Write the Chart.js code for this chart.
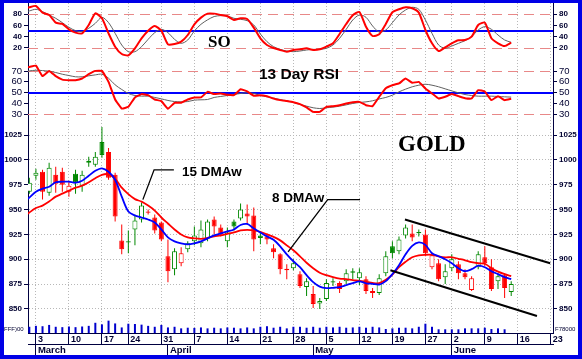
<!DOCTYPE html>
<html>
<head>
<meta charset="utf-8">
<title>Gold</title>
<script src="https://cdn.jsdelivr.net/npm/chart.js@4.4.1/dist/chart.umd.min.js"></script>
<style>
  html, body { margin: 0; padding: 0; }
  body { width: 582px; height: 359px; background: #0000e6; position: relative; overflow: hidden; }
  #frame { position: absolute; left: 4px; top: 3px; width: 574px; height: 352px; background: #ffffff; }
</style>
</head>
<body>
<div id="frame"><canvas id="chart" width="574" height="352"></canvas></div>
<script>
// trading days on the time axis (array index = x position)
const days = ['2/28','2/29','3/3','3/4','3/5','3/6','3/7','3/10','3/11','3/12','3/13','3/14','3/17','3/18','3/19','3/20',
  '3/24','3/25','3/26','3/27','3/28','3/31','4/1','4/2','4/3','4/4','4/7','4/8','4/9','4/10','4/11','4/14','4/15','4/16',
  '4/17','4/18','4/21','4/22','4/23','4/24','4/25','4/28','4/29','4/30','5/1','5/2','5/5','5/6','5/7','5/8','5/9','5/12',
  '5/13','5/14','5/15','5/16','5/19','5/20','5/21','5/22','5/23','5/27','5/28','5/29','5/30','6/2','6/3','6/4','6/5','6/6',
  '6/9','6/10','6/11','6/12','6/13','6/16','6/17','6/18','6/19','6/20','6/23'];
const weekStarts = ['3/3','3/10','3/17','3/24','3/31','4/7','4/14','4/21','4/28','5/5','5/12','5/19','5/27','6/2','6/9','6/16','6/23'];
const monthStarts = ['3/3', '4/1', '5/1', '6/2'];
const monthNames = ['March', 'April', 'May', 'June'];

// gold price, daily
const open = [null, 968, 984, 988, 967, 985, 988, 968, 986, 974, 997, 995, 1018, 1008, 985, 919, 918, 930, 940, 948, 942, 937,
  903, 890, 896, 910, 918, 916, 921, 940, 932, 918, 938, 941, 946, 944, 924, 923, 911, 905, 890.5, 891, 885, 872, 865, 855.5,
  860, 876.5, 876, 878, 888, 881, 880, 868, 866, 886, 913, 908, 924, 926, 926.5, 925, 892, 896, 882, 891, 895, 886, 869, 892,
  902, 892, 878, 884, 867];
const high = [null, 982, 991, 990, 997, 993, 992, 979, 990, 989, 1003, 1008, 1033, 1012, 987, 935, 929, 945, 957, 950, 945, 938,
  920, 911, 912, 918, 933, 939, 940, 943, 935, 932, 940, 956, 955, 952, 928, 926, 915, 906, 895, 900, 888, 881, 873, 861,
  880, 881, 878, 890, 891, 891, 883, 871, 885, 908, 918, 923, 935, 935, 930, 930, 906, 900, 895, 905, 898, 890, 883, 908,
  913, 900, 886, 886, 878];
const low = [null, 966, 980, 960, 964, 967, 968, 963, 966, 968, 993, 993, 1002, 980, 938, 905, 906, 914, 937, 945, 926, 918,
  877, 884, 893, 907, 914, 912, 918, 925, 923, 912, 929, 939, 935, 908, 915, 915, 901, 885, 880, 889, 871, 863, 851, 850,
  858, 873, 866, 875, 880, 874, 865, 861, 864, 883, 901, 905, 921, 918, 923, 903, 890, 878, 875, 888, 880, 880, 868, 890,
  893, 868, 870, 861, 863];
const close = [null, 977, 987, 968, 992, 976, 975, 974, 977, 985, 999, 1003, 1005, 982, 943, 910, 917, 939, 954, 947, 929, 920,
  888, 908, 906, 916, 924, 930, 938, 933, 925, 927, 933, 950, 943, 920, 921.5, 920, 907, 890, 889, 896, 873, 878, 855, 858,
  876, 878, 870, 886, 886.5, 887, 868, 866, 881, 903, 906, 920, 932, 922, 927, 906, 904, 880, 888, 900, 886, 882, 881, 905,
  896, 870, 883, 871, 875];
const volume = [null, 67, 77, 73, 87, 67, 63, 70, 63, 70, 77, 110, 93, 133, 103, 60, 100, 97, 90, 77, 67, 87, 60, 67, 50, 57,
  55, 60, 50, 57, 50, 60, 57, 50, 60, 50, 67, 73, 57, 67, 50, 67, 67, 57, 67, 57, 67, 60, 67, 57, 60, 67, 57, 67, 60, 43, 50,
  57, 57, 50, 67, 100, 67, 40, 40, 40, 40, 50, 50, 50, 57, 43, 50, 40];

// weighted moving averages
const ma8 = [957, 962, 968, 971, 973, 977.5, 978, 978, 977, 979, 984, 989, 991.5, 988, 980, 963, 948, 944, 942, 940, 937, 930,
  922, 918, 916, 915, 916, 918, 921, 924, 926, 928, 930, 934.5, 935.5, 931, 927, 923, 919.6, 913, 905, 898, 892, 884, 877,
  872.5, 871, 871.3, 872, 874, 876, 877.7, 875.8, 875.3, 874.5, 878, 885, 894, 905, 913.5, 917, 914.5, 906, 903, 900, 896,
  891, 888, 890, 893.5, 892, 888, 885, 882, 880];
const ma15 = [942, 947, 951.5, 954, 958, 963, 966, 969, 972, 974, 977.5, 981.5, 985, 985.5, 981, 972, 965.5, 960.5, 958, 954,
  949, 942, 936, 930, 925, 922, 921, 920.5, 921.5, 923, 924, 925.5, 927, 929, 929.5, 929, 927.5, 925, 922.5, 919, 914, 909,
  903, 896.5, 891, 886.5, 884, 882, 880.5, 880, 879, 878.3, 877.3, 876.2, 876, 879.5, 884.5, 892, 897.5, 902, 904, 904.5,
  904.5, 903, 902, 902, 900.5, 899, 897, 896, 895.5, 891, 887.5, 885, 883];

// stochastic oscillator
const soK = [89, 92.6, 95, 83, 78.8, 65, 62.6, 53, 47, 45.8, 60.8, 81.8, 72.8, 45.8, 21.8, 8.6, 6.2, 18.8, 36.8, 50.6, 59,
  50.6, 26, 26.6, 30.8, 42.8, 62, 74, 81.2, 81.2, 78.8, 76.4, 69.8, 72.8, 71.6, 56, 36.8, 24.8, 19.4, 15.8, 12.8, 15.8, 17,
  18.8, 15.8, 17, 21.8, 27.8, 44.6, 62.6, 78.2, 84.2, 57.8, 41, 44, 62.6, 83.6, 89, 92.6, 90.8, 83, 51.8, 27.8, 14, 20.6,
  27.8, 33.2, 33.8, 39.8, 60.8, 65, 36.8, 27.8, 23, 29];
const soD = [83, 86, 89, 84.8, 78.8, 72.8, 65, 56.6, 50.6, 48.8, 54.8, 63.8, 74.6, 65, 45.8, 24.8, 12.8, 12.8, 21.8, 35, 47,
  53, 47, 35, 27.8, 33.8, 50, 62, 70, 76, 77.6, 77, 72.8, 71, 68.6, 60.8, 44.6, 30.8, 21.8, 17, 14, 12.8, 14, 15.8, 17, 17,
  18.8, 24.8, 36.8, 53, 69.8, 78.8, 74.6, 59, 48, 51.8, 65, 78.8, 87.8, 92.6, 89, 69.8, 45.8, 24.8, 18.8, 23, 27.8, 32.6,
  39.8, 51.8, 57.8, 53, 42.8, 33.8, 29.6];

// 13 day RSI and its average
const rsi = [72.3, 73.8, 75, 65.2, 70.1, 65.2, 62, 61.5, 61.5, 63, 67, 70.1, 70.1, 59.9, 43.5, 35.1, 36.7, 45.4, 48.5, 47.5,
  43.5, 42, 34.8, 40.4, 40.4, 43.5, 45.4, 45.4, 50.6, 48.5, 49.1, 47.8, 47.5, 53, 51, 47, 47.5, 46.5, 44.4, 42.9, 42, 41,
  39.2, 36.1, 32, 32, 36.7, 37.3, 38.2, 39.8, 41, 41.3, 38.2, 37.3, 46, 54, 56.8, 58.4, 63, 59, 59.9, 53.7, 49.1, 44.4, 46,
  48.5, 46.6, 44.7, 44.4, 52.2, 50.9, 42.9, 46.6, 42.9, 44.1];
const rsiAvg = [69.2, 70.1, 70.7, 70.4, 69.8, 68.6, 67, 65.8, 64.6, 64.6, 65.5, 66.4, 67, 63.3, 57.1, 52.8, 49.1, 47.2, 46.6,
  46.6, 45.4, 44.1, 42.6, 41.6, 41.3, 41.6, 42.9, 43.2, 43.5, 45.4, 46.3, 47.2, 48.1, 49.1, 49.7, 49.1, 47.2, 46, 44.7, 43.5,
  42.3, 40.7, 38.9, 37.3, 35.8, 35.1, 35.8, 36.4, 37.3, 38.5, 39.8, 40.7, 41.3, 42.3, 44, 45.4, 47.5, 50.6, 53.1, 55.3, 56.8,
  57.7, 56.8, 55.3, 53.4, 51.5, 49.7, 48.1, 47.2, 46.6, 46.6, 46.6, 46.3, 46, 45.7];

const priceTicks = [850, 875, 900, 925, 950, 975, 1000, 1025];
const soTicks = [20, 40, 60, 80];
const rsiTicks = [30, 40, 50, 60, 70];
const soBands = [20, 80];
const rsiBands = [30, 70];

// hand drawn lines: [day index, price]
const channelTop = [[57.9, 940], [79.9, 896]];
const channelBottom = [[55.7, 889], [77.9, 843]];
const pointer15 = [[18.2, 960], [19.9, 990], [22.9, 990]];
const pointer8 = [[40.2, 907.5], [46.2, 960], [51.1, 960]];

const GREEN = '#008800', RED = '#ff0000', BLUE = '#0000ff', PINK = '#e88888';
const GRID = '#b8b8b8', AXIS = '#000040', TXT = '#000030';

Chart.defaults.font.family = '"Liberation Sans", Arial, sans-serif';

const live = days.map((d, k) => k).filter(k => close[k] != null);
const isUp = k => close[k] >= (k > 0 && close[k - 1] != null ? close[k - 1] : open[k]);
const colorOf = k => isUp(k) ? GREEN : RED;

const wickData = live.map(k => ({ x: k, y: [low[k], high[k]] }));
const bodyData = live.map(k => {
  let a = Math.min(open[k], close[k]), b = Math.max(open[k], close[k]);
  if (b - a < 1.2) { const m = (a + b) / 2; a = m - 0.6; b = m + 0.6; }
  return { x: k, y: [a, b] };
});
const series = arr => arr.map((v, k) => ({ x: k, y: v })).filter(p => p.y != null);
const pts = arr => arr.map(p => ({ x: p[0], y: p[1] }));

function yAxis(side, lo, hi, values, font, weight, stackWeight, gridOn) {
  return {
    type: 'linear', position: side, stack: side, stackWeight: stackWeight, weight: weight,
    min: lo, max: hi, offset: false,
    afterBuildTicks: s => { s.ticks = values.map(v => ({ value: v })); },
    afterFit: s => { s.width = side === 'left' ? 24 : 25; s.paddingTop = 0; s.paddingBottom = 0; },
    ticks: { font: font, color: TXT, padding: 2, autoSkip: false, callback: v => String(v) },
    grid: { drawOnChartArea: gridOn, color: GRID, tickLength: 4, tickColor: AXIS, offset: false },
    border: { color: AXIS, dash: [1, 2] }
  };
}

const small = { size: 8, weight: 'bold' };
const mid = { size: 9.5 };

const guides = {
  id: 'guides',
  beforeDatasetsDraw(chart) {
    const { ctx, chartArea: a, scales } = chart;
    const hline = (scale, v, color, width, dash) => {
      const y = Math.round(scale.getPixelForValue(v)) + (width % 2 ? 0.5 : 0);
      ctx.save();
      ctx.strokeStyle = color; ctx.lineWidth = width; ctx.setLineDash(dash);
      ctx.beginPath(); ctx.moveTo(a.left, y); ctx.lineTo(a.right, y); ctx.stroke();
      ctx.restore();
    };
    soBands.forEach(v => hline(scales.ySO, v, PINK, 1, [10, 6]));
    rsiBands.forEach(v => hline(scales.yRSI, v, PINK, 1, [10, 6]));
    hline(scales.ySO, 50, BLUE, 2, []);
    hline(scales.yRSI, 50, BLUE, 2, []);
  }
};

const notes = {
  id: 'notes',
  afterDraw(chart) {
    const ctx = chart.ctx;
    ctx.save();
    ctx.fillStyle = '#000';
    ctx.font = 'bold 17px "Liberation Serif"';
    ctx.fillText('SO', 204, 44);
    ctx.font = 'bold 15.5px "Liberation Sans"';
    ctx.fillText('13 Day RSI', 255, 75.5);
    ctx.font = 'bold 23px "Liberation Serif"';
    ctx.fillText('GOLD', 394, 147.5);
    ctx.font = 'bold 13.5px "Liberation Sans"';
    ctx.fillText('15 DMAw', 178, 172.5);
    ctx.fillText('8 DMAw', 268, 198.5);
    ctx.font = '6px "Liberation Sans"';
    ctx.fillStyle = TXT;
    ctx.fillText('FFF)00', 0, 328);
    ctx.fillText('F78000', 551, 328);
    ctx.restore();
  }
};

new Chart(document.getElementById('chart'), {
  type: 'line',
  data: {
    datasets: [
      { type: 'bar', data: volume.map((v, k) => ({ x: k, y: v })).filter(p => p.y != null), yAxisID: 'yVol',
        backgroundColor: '#0000cc', barThickness: 2, grouped: false, inflateAmount: 0, order: 9 },
      { type: 'bar', data: wickData, yAxisID: 'yPrice', backgroundColor: live.map(colorOf),
        barThickness: 1, grouped: false, inflateAmount: 0, order: 8 },
      { type: 'bar', data: bodyData, yAxisID: 'yPrice',
        backgroundColor: live.map(k => close[k] > open[k] ? '#ffffff' : colorOf(k)),
        borderColor: live.map(colorOf), borderWidth: 1, borderSkipped: false,
        barThickness: 5, grouped: false, inflateAmount: 0, order: 7 },
      { data: series(ma15), yAxisID: 'yPrice', borderColor: RED, borderWidth: 1.8, pointRadius: 0, tension: 0.3, order: 4 },
      { data: series(ma8), yAxisID: 'yPrice', borderColor: BLUE, borderWidth: 1.8, pointRadius: 0, tension: 0.3, order: 3 },
      { data: pts(channelTop), yAxisID: 'yPrice', borderColor: '#000', borderWidth: 2, pointRadius: 0, order: 2 },
      { data: pts(channelBottom), yAxisID: 'yPrice', borderColor: '#000', borderWidth: 2, pointRadius: 0, order: 2 },
      { data: pts(pointer15), yAxisID: 'yPrice', borderColor: '#000', borderWidth: 1.3, pointRadius: 0, order: 2 },
      { data: pts(pointer8), yAxisID: 'yPrice', borderColor: '#000', borderWidth: 1.3, pointRadius: 0, order: 2 },
      { data: series(soD), yAxisID: 'ySO', borderColor: '#606060', borderWidth: 1, pointRadius: 0, tension: 0.3, order: 5 },
      { data: series(soK), yAxisID: 'ySO', borderColor: RED, borderWidth: 2, pointRadius: 0, tension: 0.2, order: 4 },
      { data: series(rsiAvg), yAxisID: 'yRSI', borderColor: '#606060', borderWidth: 1, pointRadius: 0, tension: 0.3, order: 5 },
      { data: series(rsi), yAxisID: 'yRSI', borderColor: RED, borderWidth: 2, pointRadius: 0, tension: 0.1, order: 4 }
    ]
  },
  options: {
    responsive: false,
    animation: false,
    events: [],
    layout: { padding: 0 },
    plugins: { legend: { display: false }, tooltip: { enabled: false } },
    scales: {
      x: {
        type: 'linear', position: 'bottom', min: 0.8, max: 80.33, offset: false, weight: 0,
        afterBuildTicks: s => { s.ticks = weekStarts.map(d => ({ value: days.indexOf(d) })); },
        afterFit: s => { s.height = 11; s.paddingLeft = 0; s.paddingRight = 0; },
        ticks: { callback: v => days[v].split('/')[1], align: 'start', labelOffset: 2, padding: -10,
          font: { size: 9, weight: 'bold' }, color: TXT, maxRotation: 0, autoSkip: false },
        grid: { color: GRID, tickLength: 11, tickColor: AXIS, offset: false },
        border: { color: AXIS, dash: [1, 2] }
      },
      xm: {
        type: 'linear', position: 'bottom', min: 0.8, max: 80.33, offset: false, weight: 1,
        afterBuildTicks: s => { s.ticks = monthStarts.map(d => ({ value: days.indexOf(d) })); },
        afterFit: s => { s.height = 11; s.paddingLeft = 0; s.paddingRight = 0; },
        ticks: { callback: v => monthNames[monthStarts.indexOf(days[v])], align: 'start', labelOffset: 2, padding: -10,
          font: { size: 9.5, weight: 'bold' }, color: TXT, maxRotation: 0, autoSkip: false },
        grid: { drawOnChartArea: false, tickLength: 11, tickColor: AXIS, offset: false },
        border: { color: AXIS }
      },
      ySO: yAxis('left', 0, 100.3, soTicks, small, 4, 55.8, false),
      yRSI: yAxis('left', 25.35, 81.35, rsiTicks, mid, 3, 60.2, false),
      yPrice: yAxis('left', 838.9, 1041.1, priceTicks, small, 2, 201, true),
      yVol: yAxis('left', 0, 140, [], small, 1, 13, false),
      ySOr: yAxis('right', 0, 100.3, soTicks, small, 1, 55.8, false),
      yRSIr: yAxis('right', 25.35, 81.35, rsiTicks, mid, 2, 60.2, false),
      yPricer: yAxis('right', 838.9, 1041.1, priceTicks, small, 3, 201, false),
      yVolr: yAxis('right', 0, 140, [], small, 4, 13, false)
    }
  },
  plugins: [guides, notes]
});
</script>
</body>
</html>
